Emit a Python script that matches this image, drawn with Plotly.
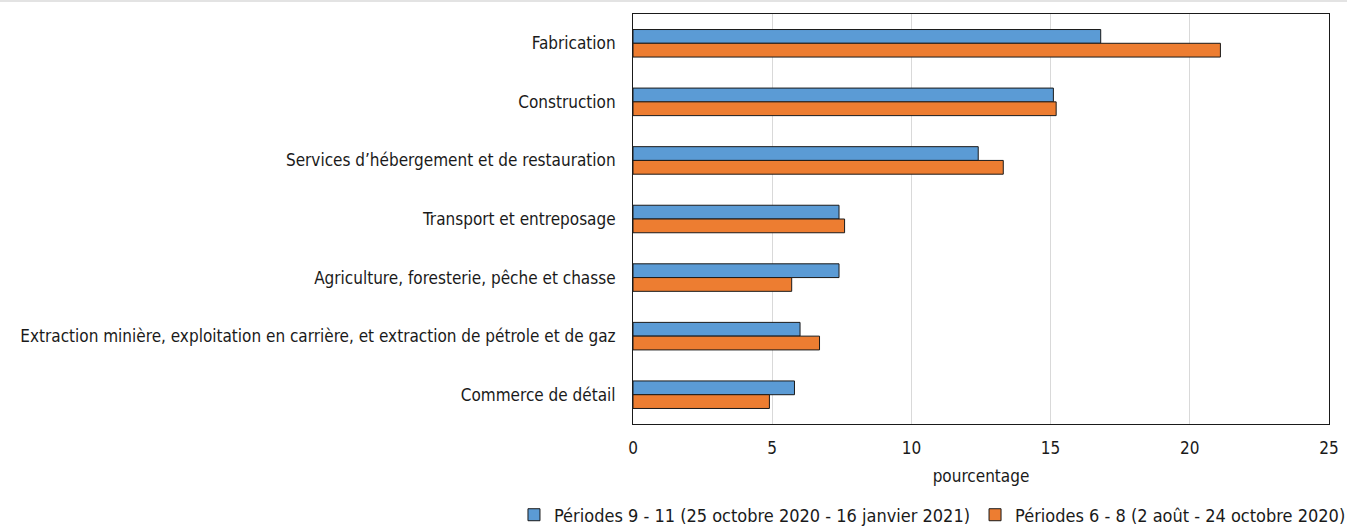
import plotly.graph_objects as go

categories = [
    "Fabrication",
    "Construction",
    "Services d’hébergement et de restauration",
    "Transport et entreposage",
    "Agriculture, foresterie, pêche et chasse",
    "Extraction minière, exploitation en carrière, et extraction de pétrole et de gaz",
    "Commerce de détail",
]
series_names = [
    "Périodes 9 - 11 (25 octobre 2020 - 16 janvier 2021)",
    "Périodes 6 - 8 (2 août - 24 octobre 2020)",
]
periods_9_11 = [16.8, 15.1, 12.4, 7.4, 7.4, 6.0, 5.8]
periods_6_8 = [21.1, 15.2, 13.3, 7.6, 5.7, 6.7, 4.9]
x_ticks = [0, 5, 10, 15, 20, 25]

FONT = "DejaVu Sans Condensed, Liberation Sans Narrow, sans-serif"

fig = go.Figure()
fig.add_trace(go.Bar(
    y=categories, x=periods_9_11, name=series_names[0], orientation="h",
    marker=dict(color="#5B9BD5", line=dict(color="#1a1a1a", width=1)),
))
fig.add_trace(go.Bar(
    y=categories, x=periods_6_8, name=series_names[1], orientation="h",
    marker=dict(color="#ED7D31", line=dict(color="#1a1a1a", width=1)),
))

fig.update_layout(
    width=1347, height=529,
    margin=dict(l=633, r=18, t=14, b=105, autoexpand=False),
    paper_bgcolor="white", plot_bgcolor="white",
    font=dict(family=FONT, size=17, color="#1a1a1a"),
    barmode="group", bargap=0.53, bargroupgap=0,
    legend=dict(orientation="h", x=-0.171, xanchor="left", y=-0.222, yanchor="middle",
                font=dict(size=18), traceorder="normal", itemwidth=30,
                tracegroupgap=0),
    showlegend=True,
    shapes=[dict(type="line", xref="paper", yref="paper", x0=-0.91, x1=1.03,
                 y0=1.032, y1=1.032, line=dict(color="#e3e3e3", width=2))],
)
fig.update_xaxes(
    range=[0, 25], tickvals=x_ticks, showgrid=True, gridcolor="#d9d9d9", gridwidth=1,
    showline=True, linecolor="#1a1a1a", linewidth=1, mirror=True, zeroline=False,
    ticks="", tickfont=dict(size=17), ticklabelstandoff=9,
    title=dict(text="pourcentage", font=dict(size=17), standoff=12),
)
fig.update_yaxes(
    autorange="reversed", showline=True, linecolor="#1a1a1a", linewidth=1, mirror=True,
    ticks="", showgrid=False, tickfont=dict(size=17), ticklabelstandoff=13,
)

fig.write_html("out.html", config={"displayModeBar": False},
               post_script="document.body.style.margin='0';")
